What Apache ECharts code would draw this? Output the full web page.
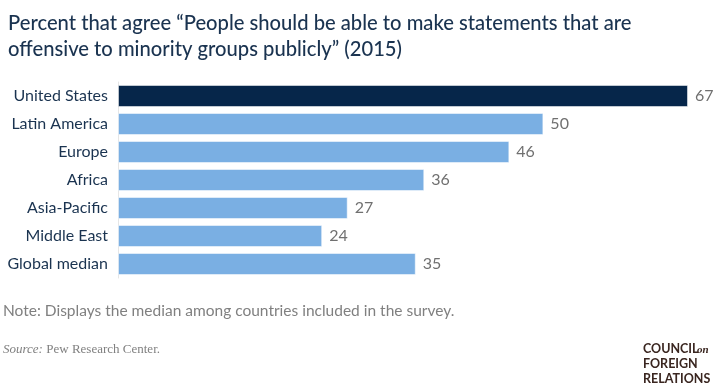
<!DOCTYPE html>
<html><head><meta charset="utf-8">
<script src="https://cdn.jsdelivr.net/npm/echarts@6/dist/echarts.min.js"></script>
<style>html,body{margin:0;padding:0;background:#fff}#c{width:723px;height:387px}</style>
</head><body><div id="c"></div>
<script>
const categories = ["United States","Latin America","Europe","Africa","Asia-Pacific","Middle East","Global median"];
const values = [67,50,46,36,27,24,35];
const highlight = "United States";

const chart = echarts.init(document.getElementById('c'), null, {renderer:'canvas'});
const data = values.map((v,i)=>({value:v, itemStyle:{color: categories[i]===highlight ? '#06264a' : '#7aafe3'}}));
chart.setOption({
  backgroundColor:'#fff',
  animation:false,
  title:{
    text:'Percent that agree “People should be able to make statements that are\noffensive to minority groups publicly” (2015)',
    left:3, top:5,
    textStyle:{fontFamily:'Lato', fontSize:20.2, fontWeight:500, color:'#1a3350', lineHeight:26}
  },
  grid:{left:118, right:35, top:82, bottom:109, containLabel:false},
  xAxis:{type:'value', min:0, max:67, show:false},
  yAxis:{type:'category', data:categories, inverse:true,
    axisLine:{show:true, lineStyle:{color:'#e6e6e6', width:1}},
    axisTick:{show:false},
    axisLabel:{fontFamily:'Lato', fontSize:16, color:'#1a3350', margin:10}
  },
  series:[{type:'bar', data:data, barWidth:22,
    itemStyle:{borderColor:'rgba(255,255,255,0.5)', borderWidth:1},
    label:{show:true, position:'right', distance:7, fontFamily:'Lato', fontSize:16, color:'#707070'}
  }],
  graphic:[
    {type:'text', left:3, top:303, style:{text:'Note: Displays the median among countries included in the survey.', font:'15.5px Lato', fill:'#808080'}},
    {type:'text', left:3, top:343, style:{rich:{i:{fontFamily:'Liberation Serif', fontStyle:'italic', fontSize:13, fill:'#808080'}, n:{fontFamily:'Liberation Serif', fontSize:13, fill:'#808080'}}, text:'{i|Source:} {n|Pew Research Center.}'}},
    {type:'text', left:643, top:342, style:{text:'COUNCIL', font:'bold 12.5px Lato', fill:'#3a2620'}},
    {type:'text', left:697, top:345, style:{text:'on', font:'italic bold 11px "Liberation Serif"', fill:'#3a2620'}},
    {type:'text', left:643, top:357, style:{text:'FOREIGN', font:'bold 12.5px Lato', fill:'#3a2620'}},
    {type:'text', left:643, top:372, style:{text:'RELATIONS', font:'bold 12.5px Lato', fill:'#3a2620'}}
  ]
});
</script></body></html>
